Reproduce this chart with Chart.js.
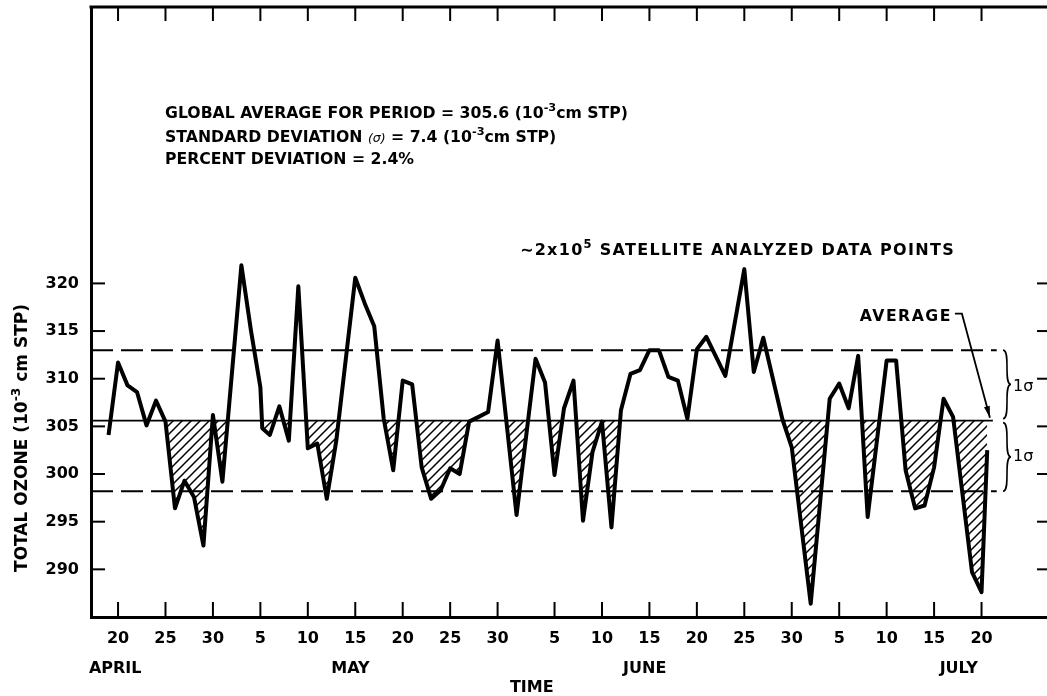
<!DOCTYPE html>
<html>
<head>
<meta charset="utf-8">
<script src="https://cdn.jsdelivr.net/npm/chart.js@4.4.0/dist/chart.umd.min.js"></script>
<style>
  html, body { margin: 0; padding: 0; background: #fff; }
  #wrap { width: 1047px; height: 696px; }
</style>
</head>
<body>
<div id="wrap"><canvas id="chart" width="1047" height="696"></canvas></div>
<script>
// day 0 = 20 April
const dayIndex = [-1, 0, 1, 2, 3, 4, 5, 6, 7, 8, 9, 10, 11, 13, 14, 15, 15.2, 16, 17, 18, 19, 20, 21, 22, 23,
  25, 26, 27, 28, 29, 30, 31, 32, 33, 34, 35, 36, 37, 38, 39, 40, 42, 44, 45, 46, 47, 48, 49, 50, 51, 52, 53,
  54, 55, 56, 57, 58, 59, 60, 61, 62, 64, 66, 67, 68, 70, 71, 73, 75, 76, 77, 78, 79, 81, 82, 83, 84, 85, 86,
  87, 88, 90, 91, 91.6];
const ozone = [304.1, 311.7, 309.3, 308.6, 305.1, 307.7, 305.5, 296.4, 299.3, 297.6, 292.5, 306.2, 299.2, 321.9, 315.1, 309.1, 304.8, 304.1, 307.1, 303.5, 319.7, 302.7, 303.2, 297.4, 303.5,
  320.6, 317.9, 315.5, 305.8, 300.4, 309.8, 309.4, 300.7, 297.4, 298.3, 300.6, 300.0, 305.5, 306.0, 306.5, 314.0, 295.7, 312.1, 309.6, 299.9, 306.9, 309.8, 295.1, 302.3, 305.5, 294.4, 306.7,
  310.5, 310.9, 313.0, 313.0, 310.2, 309.8, 305.8, 313.1, 314.4, 310.3, 321.5, 310.7, 314.3, 305.8, 302.8, 286.4, 307.9, 309.5, 306.9, 312.4, 295.5, 311.9, 311.9, 300.4, 296.4, 296.7, 300.7,
  307.9, 306.0, 289.7, 287.6, 302.5];

const tickDays = [0, 5, 10, 15, 20, 25, 30, 35, 40, 46, 51, 56, 61, 66, 71, 76, 81, 86, 91];
const tickLabels = ['20', '25', '30', '5', '10', '15', '20', '25', '30', '5', '10', '15', '20', '25', '30', '5', '10', '15', '20'];
const yTicks = [290, 295, 300, 305, 310, 315, 320];
const monthNames = ['APRIL', 'MAY', 'JUNE', 'JULY'];

const globalAvg = 305.6;
const sigma = 7.4;
const percentDev = 2.4;
const avgLineDays = [-2.85, 92.2];
const sigmaLineDays = [-2.85, 92.6];

const FONT = '"DejaVu Sans", "Liberation Sans", sans-serif';

const canvas = document.getElementById('chart');
const ctx0 = canvas.getContext('2d');

// diagonal hatch for the below-average areas
function makeHatch() {
  const c = document.createElement('canvas');
  c.width = 9; c.height = 9;
  const g = c.getContext('2d');
  g.strokeStyle = '#000';
  g.lineWidth = 1.5;
  g.beginPath();
  g.moveTo(0, 9); g.lineTo(9, 0);
  g.moveTo(-3, 3); g.lineTo(3, -3);
  g.moveTo(6, 12); g.lineTo(12, 6);
  g.stroke();
  return ctx0.createPattern(c, 'repeat');
}

// text with superscripts, returns width
function richText(ctx, parts, x, y, size, draw = true, spacing = 0) {
  let cx = x;
  ctx.letterSpacing = spacing + 'px';
  for (const [t, kind] of parts) {
    let s = size, dy = 0, style = 'bold';
    if (kind === 'sup') { s = size * 0.72; dy = -size * 0.42; }
    if (kind === 'greek') { s = size * 0.8; style = 'italic'; }
    ctx.font = `${style} ${s}px ${FONT}`;
    if (draw) ctx.fillText(t, cx, y + dy);
    cx += ctx.measureText(t).width;
  }
  ctx.letterSpacing = '0px';
  return cx - x;
}

function seg(ctx, x1, y1, x2, y2) {
  ctx.beginPath(); ctx.moveTo(x1, y1); ctx.lineTo(x2, y2); ctx.stroke();
}

function brace(ctx, x, y1, y2, w) {
  const ym = (y1 + y2) / 2;
  ctx.beginPath();
  ctx.moveTo(x, y1);
  ctx.bezierCurveTo(x + w, y1, x, ym, x + w, ym);
  ctx.bezierCurveTo(x, ym, x + w, y2, x, y2);
  ctx.stroke();
}

const paperPlugin = {
  id: 'paper',
  afterDraw(chart) {
    const { ctx, chartArea: a, scales: { x, y } } = chart;
    ctx.save();
    ctx.strokeStyle = '#000';
    ctx.fillStyle = '#000';

    // top frame
    ctx.lineWidth = 3;
    seg(ctx, a.left - 1.5, a.top, a.right, a.top);

    // inward tick marks
    ctx.lineWidth = 2;
    tickDays.forEach(d => {
      const px = x.getPixelForValue(d);
      seg(ctx, px, a.bottom, px, a.bottom - 15);
      seg(ctx, px, a.top, px, a.top + 14);
    });
    yTicks.forEach(v => {
      const py = y.getPixelForValue(v);
      seg(ctx, a.left, py, a.left + 14, py);
      seg(ctx, a.right - 10, py, a.right, py);
    });

    // statistics block
    ctx.textBaseline = 'alphabetic';
    ctx.textAlign = 'left';
    const fs = 15.7;
    richText(ctx, [['GLOBAL AVERAGE FOR PERIOD = ' + globalAvg.toFixed(1) + ' (10'], ['-3', 'sup'], ['cm STP)']], 165, 118, fs);
    let w = richText(ctx, [['STANDARD DEVIATION ']], 165, 142, fs);
    w += richText(ctx, [['(σ)', 'greek']], 165 + w, 142, fs);
    richText(ctx, [[' = ' + sigma.toFixed(1) + ' (10'], ['-3', 'sup'], ['cm STP)']], 165 + w, 142, fs);
    richText(ctx, [['PERCENT DEVIATION = ' + percentDev.toFixed(1) + '%']], 165, 164, fs);

    // data points note
    const note = [['∼2x10'], ['5', 'sup'], [' SATELLITE ANALYZED DATA POINTS']];
    const nw = richText(ctx, note, 0, 0, 16, false, 1.3);
    richText(ctx, note, 955 - nw, 255, 16, true, 1.3);

    // AVERAGE pointer
    const tipX = x.getPixelForValue(avgLineDays[1]) - 3;
    const tipY = y.getPixelForValue(globalAvg) - 3;
    const aw = richText(ctx, [['AVERAGE']], 0, 0, fs, false, 1.5);
    richText(ctx, [['AVERAGE']], tipX - 38 - aw, tipY - 97, fs, true, 1.5);
    ctx.lineWidth = 1.8;
    ctx.beginPath();
    ctx.moveTo(tipX - 35, tipY - 104);
    ctx.lineTo(tipX - 28, tipY - 104);
    ctx.lineTo(tipX, tipY);
    ctx.stroke();
    const ang = Math.atan2(104, 28);
    ctx.beginPath();
    ctx.moveTo(tipX, tipY);
    ctx.lineTo(tipX - 12 * Math.cos(ang - 0.25), tipY - 12 * Math.sin(ang - 0.25));
    ctx.lineTo(tipX - 12 * Math.cos(ang + 0.25), tipY - 12 * Math.sin(ang + 0.25));
    ctx.closePath();
    ctx.fill();

    // sigma braces
    const yUp = y.getPixelForValue(globalAvg + sigma);
    const yMid = y.getPixelForValue(globalAvg);
    const yLo = y.getPixelForValue(globalAvg - sigma);
    const bx = a.right - 44;
    ctx.lineWidth = 1.6;
    brace(ctx, bx, yUp, yMid - 2, 8);
    brace(ctx, bx, yMid + 2, yLo, 8);
    ctx.textAlign = 'left';
    ctx.textBaseline = 'middle';
    ctx.font = `16px ${FONT}`;
    ctx.fillText('1σ', bx + 10, (yUp + yMid) / 2 + 1);
    ctx.fillText('1σ', bx + 10, (yMid + yLo) / 2 + 1);

    // month names and axis title
    ctx.textBaseline = 'alphabetic';
    ctx.textAlign = 'center';
    ctx.font = `bold 16px ${FONT}`;
    const monthAt = [-0.3, 24.5, 55.5, 88.6];
    monthNames.forEach((m, i) => ctx.fillText(m, x.getPixelForValue(monthAt[i]), 673));
    ctx.fillText('TIME', x.getPixelForValue(43.6), 692);

    // y axis title
    const title = [['TOTAL OZONE (10'], ['-3', 'sup'], [' cm STP)']];
    const tw = richText(ctx, title, 0, 0, 17, false);
    ctx.translate(27, 438);
    ctx.rotate(-Math.PI / 2);
    ctx.textAlign = 'left';
    richText(ctx, title, -tw / 2, 0, 17);
    ctx.restore();
  }
};

const hatch = makeHatch();

new Chart(ctx0, {
  type: 'line',
  data: {
    datasets: [
      {
        data: dayIndex.map((d, i) => ({ x: d, y: ozone[i] })),
        borderColor: '#000',
        borderWidth: 4,
        pointRadius: 0,
        tension: 0,
        borderJoinStyle: 'round',
        fill: { target: { value: globalAvg }, above: 'rgba(0,0,0,0)', below: hatch },
        order: 0,
      },
      {
        data: avgLineDays.map(d => ({ x: d, y: globalAvg })),
        borderColor: '#000', borderWidth: 1.6, pointRadius: 0, fill: false, order: 1,
      },
      {
        data: sigmaLineDays.map(d => ({ x: d, y: globalAvg + sigma })),
        borderColor: '#000', borderWidth: 2, borderDash: [22, 8], pointRadius: 0, fill: false, order: 1,
      },
      {
        data: sigmaLineDays.map(d => ({ x: d, y: globalAvg - sigma })),
        borderColor: '#000', borderWidth: 2, borderDash: [22, 8], pointRadius: 0, fill: false, order: 1,
      },
    ],
  },
  options: {
    responsive: false,
    animation: false,
    layout: { padding: { top: 7, right: 0, left: 0, bottom: 0 } },
    plugins: { legend: { display: false }, tooltip: { enabled: false } },
    scales: {
      x: {
        type: 'linear',
        min: -2.85,
        max: 97.9,
        afterBuildTicks: s => { s.ticks = tickDays.map(v => ({ value: v })); },
        afterFit: s => { s.height = 79; s.paddingLeft = 0; s.paddingRight = 0; },
        grid: { display: false, drawTicks: false },
        border: { display: true, color: '#000', width: 3 },
        ticks: {
          callback: (v, i) => tickLabels[i],
          color: '#000', font: { family: FONT, weight: 'bold', size: 16 },
          padding: 12, maxRotation: 0, autoSkip: false,
        },
      },
      y: {
        min: 285,
        max: 349,
        afterBuildTicks: s => { s.ticks = yTicks.map(v => ({ value: v })); },
        afterFit: s => { s.width = 91; s.paddingTop = 0; s.paddingBottom = 0; },
        grid: { display: false, drawTicks: false },
        border: { display: true, color: '#000', width: 3 },
        ticks: {
          color: '#000', font: { family: FONT, weight: 'bold', size: 16 },
          padding: 12,
        },
      },
    },
  },
  plugins: [paperPlugin],
});
</script>
</body>
</html>
